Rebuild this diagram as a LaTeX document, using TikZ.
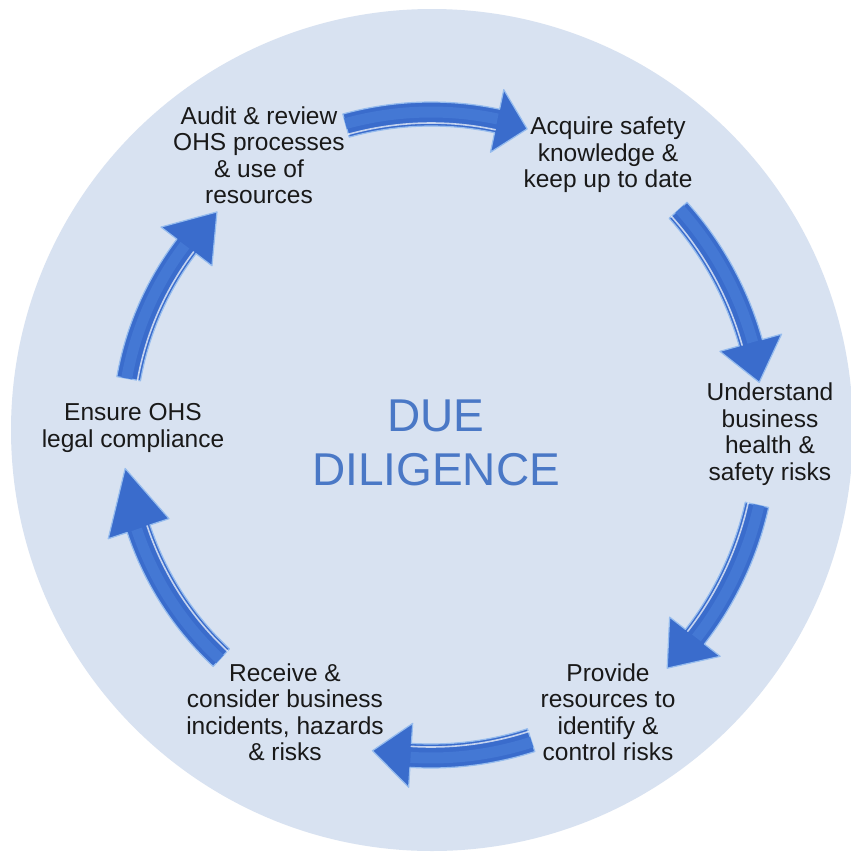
\documentclass[tikz,border=0pt]{standalone}
\usepackage{fontspec}
\setmainfont{Liberation Sans}
\definecolor{bgcircle}{RGB}{216,226,241}
\definecolor{arrowblue}{RGB}{58,108,204}
\definecolor{arrowlight}{RGB}{68,120,212}
\definecolor{arrowedge}{RGB}{150,188,238}
\definecolor{titleblue}{RGB}{74,120,198}
\definecolor{txt}{RGB}{25,25,25}
\newcommand{\fatarrow}[4]{%
  \fill[arrowblue,draw=arrowedge,line width=1.2pt,line join=round]
    ({#1}:{#4+12}) arc[start angle={#1}, end angle={#2}, radius={#4+12}]
    -- ({#2}:{#4+32}) -- ({#3}:{#4}) -- ({#2}:{#4-32}) -- ({#2}:{#4-12})
    arc[start angle={#2}, end angle={#1}, radius={#4-12}] -- cycle;
  \draw[arrowlight,line width=11pt]
    ({#1}:{#4+2}) arc[start angle={#1}, end angle={#2}, radius={#4+2}];
  \draw[white,opacity=0.7,line width=1.6pt,line cap=round]
    ({#1}:{#4-9}) arc[start angle={#1}, end angle={#2}, radius={#4-9}];
}
\tikzset{
  lbl/.style={align=center,inner sep=0pt,text=txt,font=\fontsize{24.5}{26.5}\selectfont},
  ttl/.style={align=center,inner sep=0pt,text=titleblue,font=\fontsize{46}{54}\selectfont}
}
\begin{document}
\begin{tikzpicture}[x=1pt,y=1pt]
\useasboundingbox (0,0) rectangle (851,-855);
\clip (0,0) rectangle (851,-855);
\fill[white] (0,0) rectangle (851,-855);
\fill[bgcircle] (432,-430) circle[radius=421];
\begin{scope}[shift={(431,-432)}]
  \fatarrow{105.5}{78}{72.4}{318}
  \fatarrow{41.9}{15.6}{8.6}{332}
  \fatarrow{-12.6}{-37.8}{-45}{334}
  \fatarrow{-72}{-93.6}{-100.4}{324}
  \fatarrow{-132.9}{-161.7}{-173.2}{308}
  \fatarrow{170}{142.8}{134.2}{307}
\end{scope}
\node[lbl] (audit) at (259,-155) {Audit \& review\\OHS processes\\\& use of\\resources};
\node[lbl] (acquire) at (608,-155) {Acquire safety\\knowledge \&\\keep up to date};
\node[lbl] (understand) at (770,-434) {Understand\\business\\health \&\\safety risks};
\node[lbl] (provide) at (608,-712) {Provide\\resources to\\identify \&\\control risks};
\node[lbl] (receive) at (285,-712) {Receive \&\\consider business\\incidents, hazards\\\& risks};
\node[lbl] (ensure) at (133,-428) {Ensure OHS\\legal compliance};
\node[ttl] (title) at (436,-443) {DUE\\DILIGENCE};
\end{tikzpicture}
\end{document}
